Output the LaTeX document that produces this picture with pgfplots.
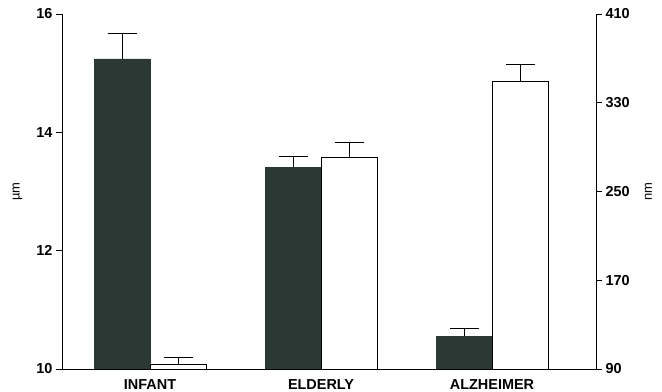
\documentclass[border=0pt]{standalone}
\usepackage{pgfplots}
\pgfplotsset{compat=1.18}
\usepackage{fontspec}
\setmainfont{Liberation Sans}
\definecolor{darkbar}{RGB}{44,56,52}
\begin{document}
\begin{tikzpicture}
\pgfplotsset{
  common/.style={
    scale only axis, width=534bp, height=355bp,
    xmin=-0.515, xmax=2.608,
    /pgf/number format/assume math mode=true,
    tick label style={font=\fontsize{14.5}{16}\selectfont\bfseries, black},
    tick align=outside, major tick length=6bp,
    axis line style={black, line width=0.8bp},
    every tick/.style={black, line width=0.8bp},
  },
  barplot/.style={ybar, bar width=0.327, bar shift=0pt, line width=0.8bp,
    error bars/y dir=plus, error bars/y explicit,
    error bars/error bar style={black, line width=0.8bp},
    error bars/error mark options={black, rotate=90, mark size=14.5bp, line width=0.8bp}},
}
\begin{axis}[common, name=a,
  axis x line*=bottom, axis y line*=left,
  ymin=10, ymax=16, ytick={10,12,14,16},
  xtick={0,1,2}, xticklabels={INFANT,ELDERLY,ALZHEIMER},
  x tick style={draw=none},
  every x tick label/.append style={anchor=base, yshift=-15bp},
  every axis y label/.style={at={(rel axis cs:-0.0833,0.5)}, rotate=90, anchor=center, font=\fontsize{13}{15}\selectfont},
  ylabel={µm}]
\addplot[barplot, fill=darkbar, draw=darkbar] coordinates {
  (-0.164,15.24) +- (0,0.44)
  (0.836,13.41) +- (0,0.19)
  (1.836,10.55) +- (0,0.13)
};
\end{axis}
\begin{axis}[common,
  axis x line=none, axis y line*=right,
  ymin=90, ymax=410, ytick={90,170,250,330,410},
  xtick=\empty,
  every axis y label/.style={at={(rel axis cs:1.098,0.5)}, rotate=90, anchor=center, font=\fontsize{13}{15}\selectfont},
  ylabel={nm}]
\addplot[barplot, fill=white, draw=black] coordinates {
  (0.164,94.5) +- (0,5.5)
  (1.164,280.5) +- (0,13.5)
  (2.164,349.2) +- (0,15.6)
};
\end{axis}
\pgfresetboundingbox
\path[use as bounding box] ([xshift=-62bp,yshift=-23bp]a.south west) rectangle ([xshift=66bp,yshift=14bp]a.north east);
\end{tikzpicture}
\end{document}
